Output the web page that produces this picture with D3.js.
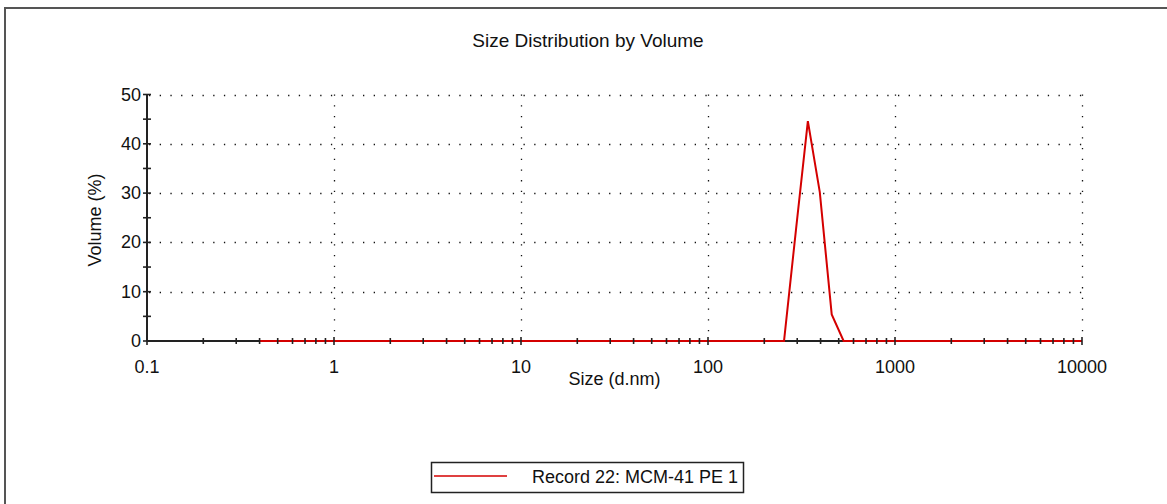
<!DOCTYPE html>
<html>
<head>
<meta charset="utf-8">
<title>Size Distribution by Volume</title>
<script src="https://d3js.org/d3.v7.min.js"></script>
<style>
  body { margin: 0; background: #fff; }
  text { font-family: "Liberation Sans", Arial, sans-serif; fill: #111; }
</style>
</head>
<body>
<div id="container"></div>
<script>
// size classes (d.nm) and volume (%)
var sizes = [0.4, 0.4632, 0.5365, 0.6213, 0.7195, 0.8332, 0.9649, 1.117, 1.294, 1.499,
  1.736, 2.01, 2.328, 2.696, 3.122, 3.615, 4.187, 4.849, 5.615, 6.503,
  7.531, 8.721, 10.1, 11.7, 13.54, 15.69, 18.17, 21.04, 24.36, 28.21,
  32.67, 37.84, 43.82, 50.75, 58.77, 68.06, 78.82, 91.28, 105.7, 122.4,
  141.8, 164.2, 190.1, 220.2, 255.0, 295.3, 342.0, 396.1, 458.7, 531.2,
  615.1, 712.4, 825.0, 955.4, 1106, 1281, 1484, 1718, 1990, 2305,
  2669, 3091, 3580, 4145, 4801, 5560, 6439, 7456, 8635, 10000];
var volume = [0, 0, 0, 0, 0, 0, 0, 0, 0, 0,
  0, 0, 0, 0, 0, 0, 0, 0, 0, 0,
  0, 0, 0, 0, 0, 0, 0, 0, 0, 0,
  0, 0, 0, 0, 0, 0, 0, 0, 0, 0,
  0, 0, 0, 0, 0, 22.5, 44.6, 30.2, 5.4, 0,
  0, 0, 0, 0, 0, 0, 0, 0, 0, 0,
  0, 0, 0, 0, 0, 0, 0, 0, 0, 0];
var xTicks = [0.1, 1, 10, 100, 1000, 10000];
var yTicks = [0, 10, 20, 30, 40, 50];
var legendLabel = "Record 22: MCM-41 PE 1";

var width = 1167, height = 504;
var plotL = 147, plotR = 1082, plotT = 94.5, plotB = 341;
var red = "#d40000";

var svg = d3.select("#container").append("svg")
  .attr("width", width).attr("height", height);

// outer frame (only top and left edges are visible)
svg.append("rect").attr("x", 5).attr("y", 8)
  .attr("width", width + 20).attr("height", height + 20)
  .attr("fill", "none").attr("stroke", "#555").attr("stroke-width", 2);

var x = d3.scaleLog().domain([0.1, 10000]).range([plotL, plotR]);
var y = d3.scaleLinear().domain([0, 50]).range([plotB, plotT]);

// title
svg.append("text").attr("x", 588).attr("y", 47)
  .attr("text-anchor", "middle").style("font-size", "19px")
  .text("Size Distribution by Volume");

// grid
var grid = svg.append("g").attr("stroke", "#111").attr("stroke-width", 1.3)
  .attr("stroke-dasharray", "1.3 9.4");
grid.selectAll(".hg").data(yTicks.slice(1)).enter().append("line")
  .attr("x1", plotL + 2).attr("x2", plotR)
  .attr("y1", function(d){ return Math.round(y(d)) + 0.5; })
  .attr("y2", function(d){ return Math.round(y(d)) + 0.5; });
grid.selectAll(".vg").data(xTicks.slice(1)).enter().append("line")
  .attr("y1", plotT).attr("y2", plotB - 2)
  .attr("x1", function(d){ return Math.round(x(d)) + 0.5; })
  .attr("x2", function(d){ return Math.round(x(d)) + 0.5; });

// axis lines
svg.append("line").attr("x1", plotL).attr("x2", plotR)
  .attr("y1", plotB).attr("y2", plotB)
  .attr("stroke", "#222").attr("stroke-width", 2);
svg.append("line").attr("x1", plotL).attr("x2", plotL)
  .attr("y1", plotT).attr("y2", plotB)
  .attr("stroke", "#222").attr("stroke-width", 2);

// data line
var line = d3.line()
  .x(function(d, i){ return x(sizes[i]); })
  .y(function(d){ return y(d); });
svg.append("path").datum(volume)
  .attr("d", line).attr("fill", "none")
  .attr("stroke", red).attr("stroke-width", 2);

// x ticks (major + minor)
var xMinor = [];
for (var e = -1; e < 4; e++) {
  [2, 3, 4, 5, 6, 7, 8, 9].forEach(function(m){ xMinor.push(m * Math.pow(10, e)); });
}
var tk = svg.append("g").attr("stroke", "#222").attr("stroke-width", 1.6);
tk.selectAll(".xm").data(xMinor).enter().append("line")
  .attr("x1", function(d){ return x(d); }).attr("x2", function(d){ return x(d); })
  .attr("y1", plotB - 3).attr("y2", plotB + 3);
tk.selectAll(".xM").data(xTicks).enter().append("line")
  .attr("x1", function(d){ return x(d); }).attr("x2", function(d){ return x(d); })
  .attr("y1", plotB - 4).attr("y2", plotB + 4);

// y ticks (major + minor)
var yMinor = d3.range(0, 51, 5);
tk.selectAll(".ym").data(yMinor).enter().append("line")
  .attr("x1", plotL - 4).attr("x2", plotL + 4)
  .attr("y1", function(d){ return y(d); }).attr("y2", function(d){ return y(d); });

// tick labels
svg.selectAll(".xl").data(xTicks).enter().append("text")
  .attr("x", function(d){ return x(d); }).attr("y", 373)
  .attr("text-anchor", "middle").style("font-size", "18px")
  .text(function(d){ return d; });
svg.selectAll(".yl").data(yTicks).enter().append("text")
  .attr("x", plotL - 6).attr("y", function(d){ return y(d) + 6; })
  .attr("text-anchor", "end").style("font-size", "18px")
  .text(function(d){ return d; });

// axis titles
svg.append("text").attr("x", (plotL + plotR) / 2).attr("y", 385)
  .attr("text-anchor", "middle").style("font-size", "18px")
  .text("Size (d.nm)");
svg.append("text").attr("transform", "translate(101,220) rotate(-90)")
  .attr("text-anchor", "middle").style("font-size", "18px")
  .text("Volume (%)");

// legend
var lg = svg.append("g");
lg.append("rect").attr("x", 431.5).attr("y", 462.5).attr("width", 312).attr("height", 30)
  .attr("fill", "#fff").attr("stroke", "#222").attr("stroke-width", 1.5);
lg.append("line").attr("x1", 434).attr("x2", 507).attr("y1", 476).attr("y2", 476)
  .attr("stroke", red).attr("stroke-width", 1.5);
lg.append("text").attr("x", 532).attr("y", 483).style("font-size", "18px")
  .text(legendLabel);
</script>
</body>
</html>
